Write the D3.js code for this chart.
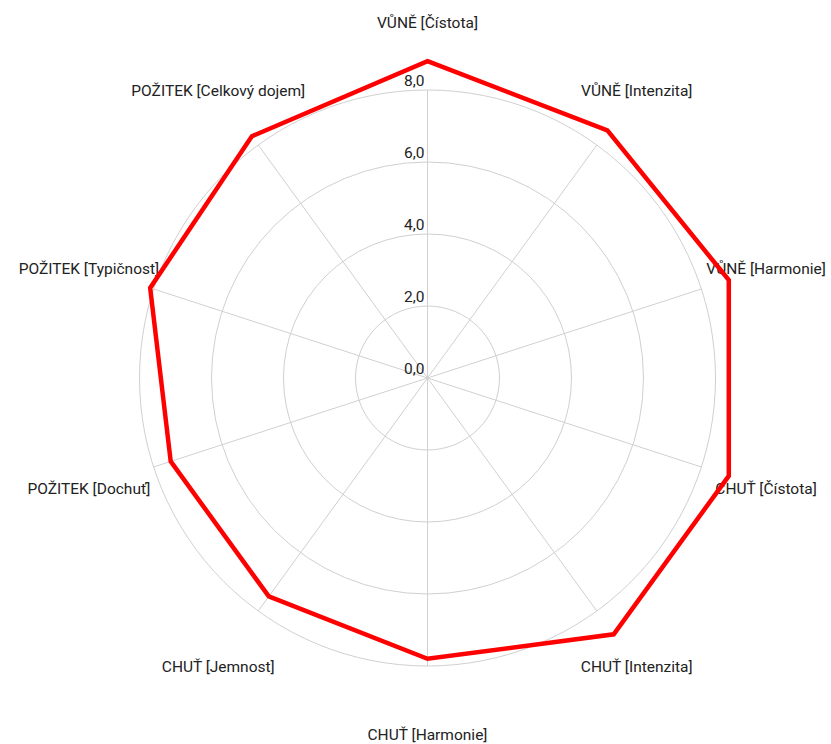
<!DOCTYPE html>
<html>
<head>
<meta charset="utf-8">
<script src="https://cdn.jsdelivr.net/npm/d3@7"></script>
<style>
  body { margin: 0; background: #fff; }
  text { font-family: Roboto, "Noto Sans", sans-serif; fill: #222; }
</style>
</head>
<body>
<div id="chart"></div>
<script>
// categories and values
var categories = [
    "VŮNĚ [Čístota]", "VŮNĚ [Intenzita]", "VŮNĚ [Harmonie]",
    "CHUŤ [Čístota]", "CHUŤ [Intenzita]", "CHUŤ [Harmonie]",
    "CHUŤ [Jemnost]", "POŽITEK [Dochuť]", "POŽITEK [Typičnost]",
    "POŽITEK [Celkový dojem]"
];
var values = [8.8, 8.5, 8.8, 8.8, 8.8, 7.8, 7.5, 7.5, 8.1, 8.3];
var ticks = [0, 2, 4, 6, 8];
var tickLabels = ["0,0", "2,0", "4,0", "6,0", "8,0"];

var width = 831, height = 744;
var cx = 427.5, cy = 378;
var labelRadius = 356;
var fontSize = 15.5;

var svg = d3.select("#chart").append("svg")
    .attr("width", width)
    .attr("height", height);

var g = svg.append("g")
    .attr("transform", "translate(" + cx + "," + cy + ")");

var r = d3.scaleLinear()
    .domain([0, 8])
    .range([0, 288]);

var angle = d3.scaleLinear()
    .domain([0, categories.length])
    .range([0, 2 * Math.PI]);

//grid circles
g.selectAll(".ring").data(ticks.filter(function (d) {return d > 0}))
    .enter()
    .append("circle")
    .attr("r", function (d) {return r(d)})
    .attr("fill", "none")
    .attr("stroke", "#d0d0d0")
    .attr("stroke-width", 1);

//spokes
g.selectAll(".spoke").data(categories)
    .enter()
    .append("line")
    .attr("x1", 0)
    .attr("y1", 0)
    .attr("x2", function (d, i) {return r(8) * Math.sin(angle(i))})
    .attr("y2", function (d, i) {return -r(8) * Math.cos(angle(i))})
    .attr("stroke", "#d0d0d0")
    .attr("stroke-width", 1);

//tick labels
g.selectAll(".tick").data(ticks)
    .enter()
    .append("text")
    .text(function (d, i) {return tickLabels[i]})
    .attr("x", -3)
    .attr("y", function (d) {return -r(d) - 4})
    .attr("text-anchor", "end")
    .style("font-size", fontSize + "px");

//category labels
g.selectAll(".label").data(categories)
    .enter()
    .append("text")
    .text(function (d) {return d})
    .attr("x", function (d, i) {return labelRadius * Math.sin(angle(i))})
    .attr("y", function (d, i) {return -labelRadius * Math.cos(angle(i)) + fontSize * 0.355})
    .attr("text-anchor", "middle")
    .style("font-size", fontSize + "px");

//data line
var line = d3.lineRadial()
    .angle(function (d, i) {return angle(i)})
    .radius(function (d) {return r(d)})
    .curve(d3.curveLinearClosed);

g.append("path")
    .datum(values)
    .attr("d", line)
    .attr("fill", "none")
    .attr("stroke", "#ff0000")
    .attr("stroke-width", 4.5)
    .attr("stroke-linejoin", "miter");
</script>
</body>
</html>
